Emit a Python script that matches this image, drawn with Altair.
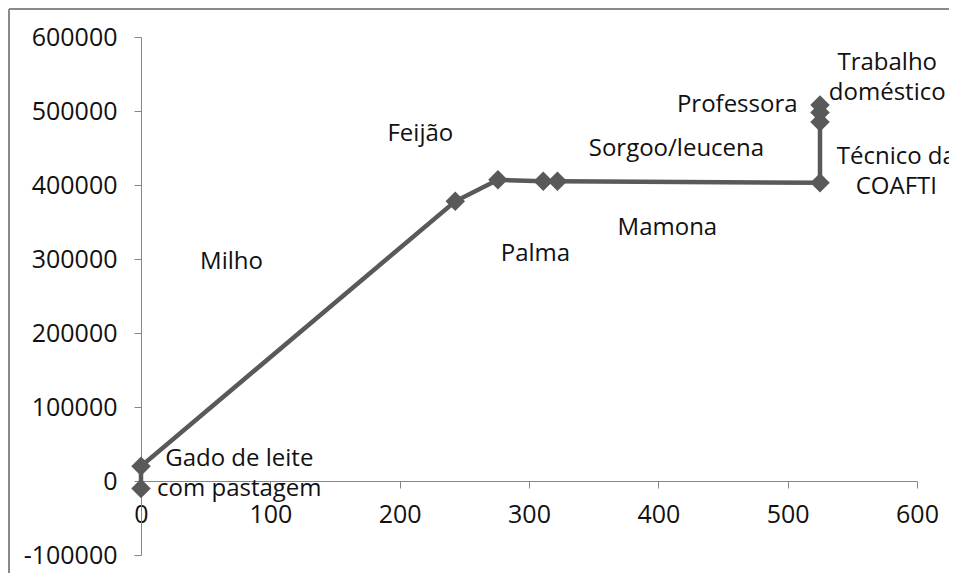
import altair as alt
import pandas as pd

# Series (x = cumulative area/quantity, y = cumulative value)
xs = [0, 0, 243, 276, 311, 322, 525, 525, 525, 525]
ys = [-10000, 20000, 378000, 407000, 405000, 405000, 403000, 485000, 498000, 508000]

# Annotation labels and their positions (data units, first line of each label)
label_text = ["Gado de leite\ncom pastagem", "Milho", "Feijão", "Palma", "Mamona",
              "Sorgoo/leucena", "Professora", "Trabalho\ndoméstico", "Técnico da\nCOAFTI"]
label_x = [76, 70, 216, 305, 407, 414, 461, 577, 584]
label_y = [29500, 296000, 469000, 307000, 342000, 448000, 508000, 565000, 438000]

x_ticks = [0, 100, 200, 300, 400, 500, 600]
y_ticks = [-100000, 0, 100000, 200000, 300000, 400000, 500000, 600000]

W, H = 776, 518
FONT = "Open Sans"
GRAY = "#595959"
AX = "#868686"

df = pd.DataFrame({"x": xs, "y": ys, "order": list(range(len(xs)))})
lab = pd.DataFrame({"text": label_text, "x": label_x, "y": label_y})

xscale = alt.Scale(domain=[x_ticks[0], x_ticks[-1]], nice=False, zero=False)
yscale = alt.Scale(domain=[y_ticks[0], y_ticks[-1]], nice=False, zero=False)
x_offset = -H * (0 - y_ticks[0]) / (y_ticks[-1] - y_ticks[0])

xaxis = alt.Axis(values=x_ticks, title=None, grid=False, offset=x_offset,
                 domainColor=AX, tickColor=AX, tickSize=7, labelFont=FONT,
                 labelFontSize=25, labelColor="#111", labelPadding=14,
                 labelFlush=False)
yaxis = alt.Axis(values=y_ticks, title=None, grid=False, domainColor=AX,
                 tickColor=AX, tickSize=7, labelFont=FONT, labelFontSize=25,
                 labelColor="#111", labelPadding=17, labelExpr="'' + datum.value")

frame_left = alt.Chart(alt.Data(values=[{}])).mark_rule(color="#8a8a8a", strokeWidth=2).encode(
    x=alt.value(-132), y=alt.value(-28), y2=alt.value(H + 60))
frame_top = alt.Chart(alt.Data(values=[{}])).mark_rule(color="#8a8a8a", strokeWidth=2).encode(
    x=alt.value(-132), x2=alt.value(W + 40), y=alt.value(-28))

line = alt.Chart(df).mark_line(color=GRAY, strokeWidth=4.5).encode(
    x=alt.X("x:Q", scale=xscale, axis=xaxis),
    y=alt.Y("y:Q", scale=yscale, axis=yaxis),
    order="order:Q",
)
pts = alt.Chart(df).mark_point(shape="diamond", filled=True, color=GRAY, opacity=1, size=380).encode(
    x=alt.X("x:Q", scale=xscale),
    y=alt.Y("y:Q", scale=yscale),
)
texts = alt.Chart(lab).mark_text(font=FONT, fontSize=24, color="#111", align="center",
                                 baseline="middle", lineBreak="\n", lineHeight=30).encode(
    x=alt.X("x:Q", scale=xscale),
    y=alt.Y("y:Q", scale=yscale),
    text="text:N",
)

chart = alt.layer(frame_left, frame_top, line, pts, texts).properties(
    width=W, height=H,
    autosize=alt.AutoSizeParams(type="none"),
    padding={"left": 133, "top": 29, "right": 32, "bottom": 18},
).configure_view(stroke=None)

chart.save("out.html", embed_options={"renderer": "svg", "actions": False})
